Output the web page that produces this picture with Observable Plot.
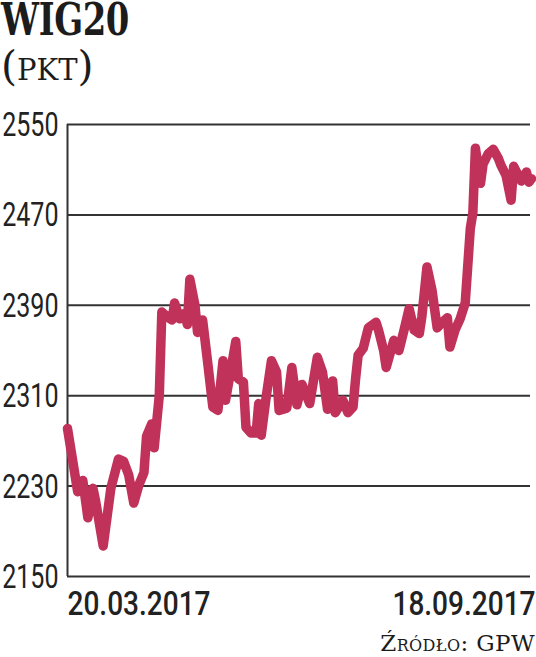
<!DOCTYPE html>
<html>
<head>
<meta charset="utf-8">
<script src="https://cdn.jsdelivr.net/npm/d3@7"></script>
<script src="https://cdn.jsdelivr.net/npm/@observablehq/plot@0.6"></script>
<style>
  html, body { margin: 0; padding: 0; background: #fff; }
  body { width: 536px; height: 657px; overflow: hidden; position: relative; }
  #title { position: absolute; left: 1px; top: 0px; height: 40px; font-family: "DejaVu Serif", serif; font-weight: bold; font-size: 44px; line-height: 40px; color: #1c1c1c; transform-origin: left top; transform: scaleX(0.77); letter-spacing: -0.5px; white-space: nowrap; }
  #subtitle { position: absolute; left: 1px; top: 44px; font-family: "DejaVu Serif", serif; font-size: 41px; line-height: 44px; color: #1c1c1c; white-space: nowrap; font-variant: small-caps; }
  #chart { position: absolute; left: 0; top: 100px; }
  #caption { position: absolute; right: 1px; top: 632px; font-family: "DejaVu Serif", serif; font-size: 23px; letter-spacing: 0.4px; line-height: 1; color: #1c1c1c; font-variant: small-caps; white-space: nowrap; }
</style>
</head>
<body>
<div id="title">WIG20</div>
<div id="subtitle">(pkt)</div>
<div id="chart"></div>
<div id="caption">Źródło: GPW</div>
<script>
const dates = [
  "2017-03-20","2017-03-24","2017-03-26","2017-03-28","2017-03-30","2017-03-31","2017-04-03","2017-04-06",
  "2017-04-09","2017-04-11","2017-04-13","2017-04-15","2017-04-17","2017-04-19","2017-04-20","2017-04-22",
  "2017-04-23","2017-04-25","2017-04-26","2017-04-28","2017-04-30","2017-05-01","2017-05-03","2017-05-05",
  "2017-05-06","2017-05-07","2017-05-09","2017-05-10","2017-05-12","2017-05-14","2017-05-16","2017-05-18",
  "2017-05-20","2017-05-21","2017-05-25","2017-05-26","2017-05-28","2017-05-29","2017-05-31","2017-06-02",
  "2017-06-03","2017-06-04","2017-06-06","2017-06-08","2017-06-10","2017-06-11","2017-06-14","2017-06-16",
  "2017-06-18","2017-06-20","2017-06-23","2017-06-26","2017-06-28","2017-06-30","2017-07-02","2017-07-03",
  "2017-07-06","2017-07-08","2017-07-10","2017-07-11","2017-07-12","2017-07-14","2017-07-16","2017-07-19",
  "2017-07-20","2017-07-22","2017-07-23","2017-07-26","2017-07-28","2017-07-30","2017-08-01","2017-08-03",
  "2017-08-05","2017-08-06","2017-08-08","2017-08-10","2017-08-12","2017-08-14","2017-08-16","2017-08-17",
  "2017-08-19","2017-08-21","2017-08-23","2017-08-25","2017-08-26","2017-08-27","2017-08-29","2017-08-30",
  "2017-09-01","2017-09-03","2017-09-05","2017-09-06","2017-09-08","2017-09-10","2017-09-11","2017-09-13",
  "2017-09-14","2017-09-16","2017-09-17","2017-09-18"
];
const values = [
  2281,2225,2235,2202,2228,2217,2177,2228,
  2254,2252,2240,2215,2231,2242,2274,2285,
  2264,2310,2384,2380,2377,2392,2378,2383,
  2373,2413,2390,2366,2377,2339,2300,2297,
  2341,2306,2358,2325,2322,2282,2277,2277,
  2303,2275,2310,2341,2331,2297,2299,2335,
  2302,2320,2303,2344,2331,2298,2323,2295,
  2306,2295,2300,2325,2346,2352,2370,2375,
  2368,2350,2335,2359,2350,2368,2387,2368,
  2365,2380,2424,2403,2370,2375,2379,2353,
  2368,2378,2392,2458,2472,2529,2498,2515,
  2524,2528,2520,2514,2505,2483,2513,2504,
  2500,2508,2499,2502
];
const yTicks = [2150, 2230, 2310, 2390, 2470, 2550];
const xLabels = ["20.03.2017", "18.09.2017"];

const parse = d3.utcParse("%Y-%m-%d");
const data = dates.map((d, i) => ({date: parse(d), value: values[i]}));
const first = data[0].date, last = data[data.length - 1].date;
const sans = "Roboto, 'DejaVu Sans', sans-serif";

const chart = Plot.plot({
  width: 536,
  height: 525,
  marginLeft: 67,
  marginRight: 6,
  marginTop: 24,
  marginBottom: 49,
  style: {fontFamily: sans, color: "#222", background: "transparent", overflow: "visible"},
  x: {type: "utc", domain: [first, last], range: [67, 531], axis: null},
  y: {domain: [2150, 2550], axis: null},
  marks: [
    Plot.ruleY(yTicks, {stroke: "#333", strokeWidth: 2}),
    Plot.ruleX([first], {stroke: "#333", strokeWidth: 2}),
    Plot.line(data, {x: "date", y: "value", stroke: "#c1325a", strokeWidth: 9.5, strokeLinejoin: "round", strokeLinecap: "round"}),
    Plot.axisY(yTicks, {label: null, tickSize: 0, tickPadding: 9, fontSize: 33, fill: "#222", tickFormat: d => String(d)}),
    Plot.text([xLabels[0]], {x: () => first, y: () => 2150, text: d => d, textAnchor: "start", dy: 27, fontSize: 33, fontWeight: 500, fill: "#222"}),
    Plot.text([xLabels[1]], {x: () => last, y: () => 2150, text: d => d, textAnchor: "end", dx: 4, dy: 27, fontSize: 33, fontWeight: 500, fill: "#222"})
  ]
});

function condense(selection, s) {
  selection.each(function() {
    const t = d3.select(this);
    const x = parseFloat(t.attr("x")) || 0, y = parseFloat(t.attr("y")) || 0;
    const tr = t.attr("transform") || "";
    t.attr("x", null).attr("y", null)
     .attr("transform", `${tr} translate(${x},${y}) scale(${s},1)`)
     .attr("dy", "0.34em");
  });
}
const svg = d3.select(chart);
condense(svg.selectAll('g[aria-label="y-axis tick label"] text'), 0.76);
condense(svg.selectAll('g[aria-label="text"] text'), 0.85);
document.getElementById("chart").appendChild(chart);
</script>
</body>
</html>
